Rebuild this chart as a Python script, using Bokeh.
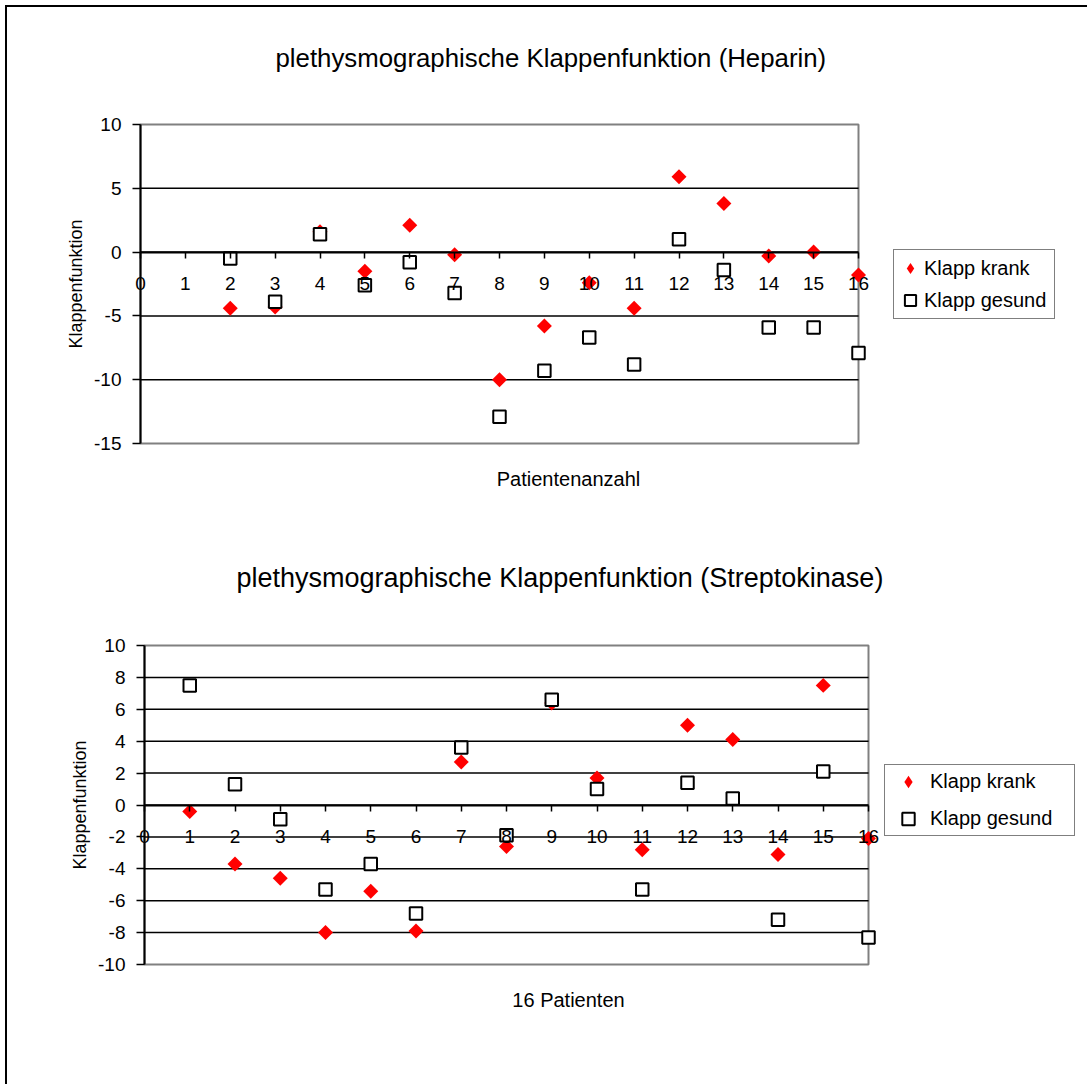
import math
from bokeh.plotting import figure
from bokeh.models import FixedTicker, LinearAxis, Legend, LegendItem, Range1d
from bokeh.layouts import column
from bokeh.embed import file_html
from bokeh.resources import INLINE

NaN = float("nan")
FONT = "Liberation Sans"

patients = list(range(1, 17))

# Heparin
hep_title = "plethysmographische Klappenfunktion (Heparin)"
hep_xlabel = "Patientenanzahl"
hep_krank = [NaN, -4.4, -4.3, 1.6, -1.5, 2.1, -0.2, -10.0, -5.8, -2.4, -4.4, 5.9, 3.8, -0.3, 0.0, -1.8]
hep_gesund = [NaN, -0.5, -3.9, 1.4, -2.6, -0.8, -3.2, -12.9, -9.3, -6.7, -8.8, 1.0, -1.4, -5.9, -5.9, -7.9]
hep_yticks = [-15, -10, -5, 0, 5, 10]

# Streptokinase
strep_title = "plethysmographische Klappenfunktion (Streptokinase)"
strep_xlabel = "16 Patienten"
strep_krank = [-0.4, -3.7, -4.6, -8.0, -5.4, -7.9, 2.7, -2.6, 6.4, 1.7, -2.8, 5.0, 4.1, -3.1, 7.5, -2.1]
strep_gesund = [7.5, 1.3, -0.9, -5.3, -3.7, -6.8, 3.6, -1.9, 6.6, 1.0, -5.3, 1.4, 0.4, -7.2, 2.1, -8.3]
strep_yticks = [-10, -8, -6, -4, -2, 0, 2, 4, 6, 8, 10]

xticks = list(range(0, 17))
series_names = ["Klapp krank", "Klapp gesund"]
ylabel = "Klappenfunktion"

W = 1080          # figure width
ORIGIN = 7        # page offset of the figures (margin + border)
FL, FR = 55, 1081  # page x of the plot frame (frames cover the whole chart)


def make_chart(title, xlabel, krank, gesund, yticks, fig_top, height,
               px_x0, px_x16, px_ytop, px_ybot, f_top, f_bot,
               title_left, title_size, leg):
    # data ranges chosen so that x=0..16 and the y limits land on the wanted pixels
    xs = (px_x16 - px_x0) / (xticks[-1] - xticks[0])
    x_start = xticks[0] + (FL - px_x0) / xs
    x_end = xticks[0] + (FR - px_x0) / xs
    ys = (px_ybot - px_ytop) / (yticks[-1] - yticks[0])
    y_end = yticks[-1] + (px_ytop - f_top) / ys
    y_start = yticks[0] - (f_bot - px_ybot) / ys

    mb_top = f_top - fig_top
    mb_bottom = height - mb_top - (f_bot - f_top)
    p = figure(width=W, height=height, x_range=Range1d(x_start, x_end),
               y_range=Range1d(y_start, y_end),
               output_backend="svg", toolbar_location=None,
               min_border_left=FL - ORIGIN, min_border_right=W - (FR - ORIGIN),
               min_border_top=mb_top, min_border_bottom=mb_bottom,
               background_fill_color="white", border_fill_color="white",
               outline_line_color=None)

    p.title.text = title
    p.title.align = "left"
    p.title.offset = title_left - FL
    p.title.standoff = 10
    p.title.text_font = FONT
    p.title.text_font_size = title_size
    p.title.text_font_style = "normal"
    p.title.text_color = "black"

    # x axis crossing at y = 0
    xa = p.xaxis[0]
    xa.ticker = FixedTicker(ticks=xticks)
    xa.fixed_location = 0
    xa.bounds = (xticks[0], xticks[-1])
    xa.axis_line_color = "black"
    xa.axis_line_width = 2
    xa.major_tick_line_color = "black"
    xa.major_tick_line_width = 1.5
    xa.major_tick_out = 6
    xa.major_tick_in = 0
    xa.minor_tick_line_color = None
    xa.major_label_text_font = FONT
    xa.major_label_text_font_size = "19px"
    xa.major_label_text_color = "black"
    xa.major_label_standoff = 19

    # bottom axis that only carries the title of the x axis
    lab = LinearAxis(ticker=FixedTicker(ticks=[]), axis_label=xlabel,
                     bounds=(xticks[0], xticks[-1]),
                     axis_line_color=None, major_tick_line_color=None,
                     minor_tick_line_color=None, major_tick_out=0, major_tick_in=0,
                     minor_tick_out=0, minor_tick_in=0, major_label_standoff=0,
                     axis_label_standoff=10, axis_label_text_font=FONT,
                     axis_label_text_font_size="20px",
                     axis_label_text_font_style="normal",
                     axis_label_text_color="black")
    p.add_layout(lab, "below")

    ya = p.yaxis[0]
    ya.ticker = FixedTicker(ticks=yticks)
    ya.fixed_location = 0
    ya.bounds = (yticks[0], yticks[-1])
    ya.major_label_overrides = {v: str(v) for v in yticks}
    ya.axis_label = ylabel
    ya.axis_label_text_font = FONT
    ya.axis_label_text_font_size = "18px"
    ya.axis_label_text_font_style = "normal"
    ya.axis_label_text_color = "black"
    ya.axis_label_standoff = 5
    ya.axis_line_color = "black"
    ya.axis_line_width = 2
    ya.major_tick_line_color = "black"
    ya.major_tick_line_width = 1.5
    ya.major_tick_out = 8
    ya.major_tick_in = 0
    ya.minor_tick_line_color = None
    ya.major_label_text_font = FONT
    ya.major_label_text_font_size = "19px"
    ya.major_label_text_color = "black"
    ya.major_label_standoff = 11

    p.xgrid.visible = False
    p.ygrid.visible = False

    # plot area box (grey) and horizontal gridlines between the axis limits
    p.quad(left=[xticks[0]], right=[xticks[-1]], bottom=[yticks[0]], top=[yticks[-1]],
           fill_color=None, line_color="#808080", line_width=2)
    grid = yticks[1:-1]
    p.segment(x0=[xticks[0]] * len(grid), x1=[xticks[-1]] * len(grid),
              y0=grid, y1=grid, line_color="black", line_width=1.5)

    p.scatter(patients, krank, marker="square", angle=math.pi / 4, size=10.6,
              fill_color="#FF0000", line_color=None)
    r2 = p.scatter(patients, gesund, marker="square", size=12.5,
                   fill_color="white", line_color="black", line_width=2)
    # legend symbol for the red diamonds
    r1 = p.scatter([NaN], [NaN], marker="diamond", fill_color="#FF0000", line_color=None)

    legend = Legend(items=[LegendItem(label=series_names[0], renderers=[r1]),
                           LegendItem(label=series_names[1], renderers=[r2])],
                    location=(leg["left"] - FL, f_bot - leg["bottom"]), margin=0,
                    padding=leg["padding"], spacing=leg["spacing"],
                    glyph_width=leg["gw"], glyph_height=leg["gh"],
                    label_height=leg["gh"], label_width=leg["lw"],
                    label_standoff=leg["ls"],
                    label_text_font=FONT, label_text_font_size="20px",
                    label_text_color="black",
                    border_line_color="black", border_line_width=1.5,
                    background_fill_color="white", background_fill_alpha=1)
    p.add_layout(legend, "center")
    return p


p1 = make_chart(hep_title, hep_xlabel, hep_krank, hep_gesund, hep_yticks,
                fig_top=7, height=533, px_x0=140, px_x16=858, px_ytop=124, px_ybot=443,
                f_top=76, f_bot=457, title_left=275, title_size="25.8px",
                leg=dict(left=893, bottom=319, padding=2, spacing=0, gw=28, gh=32,
                         lw=128, ls=0))
p2 = make_chart(strep_title, strep_xlabel, strep_krank, strep_gesund, strep_yticks,
                fig_top=540, height=544, px_x0=144, px_x16=868, px_ytop=645, px_ybot=964,
                f_top=597, f_bot=978, title_left=236, title_size="27px",
                leg=dict(left=884, bottom=836, padding=1, spacing=6, gw=44, gh=31,
                         lw=143, ls=0))

layout = column(p1, p2, spacing=0,
                styles={"margin-left": "5px", "margin-top": "5px",
                        "border-left": "2px solid black", "border-top": "2px solid black"})

open("out.html", "w").write(file_html(layout, INLINE))
